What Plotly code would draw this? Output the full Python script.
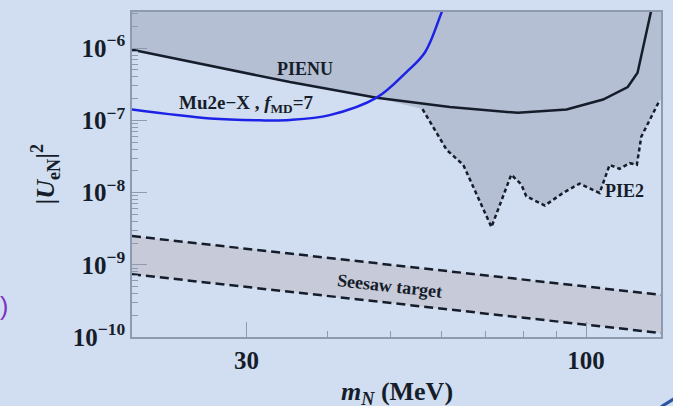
import numpy as np
import plotly.graph_objects as go

# ---------------- data ----------------
# PIENU exclusion limit (solid black)
pienu_m = [20, 26.4, 35.0, 47.6, 61.7, 78.5, 93.3, 106.2, 115.9, 120.0, 126.0, 126.9]
pienu_u = [9.5e-7, 5.75e-7, 3.39e-7, 2.06e-7, 1.53e-7, 1.27e-7, 1.41e-7, 1.94e-7, 2.89e-7,
           4.55e-7, 3.1e-6, 4.5e-6]

# Mu2e-X projection, f_MD = 7 (blue)
mu2e_m = [20, 26.4, 31.5, 35.0, 40.3, 47.6, 52.9, 56.5, 59.9, 60.6]
mu2e_u = [1.41e-7, 1.06e-7, 1.0e-7, 1.01e-7, 1.18e-7, 2.06e-7, 4.66e-7, 8.77e-7, 3.1e-6, 4.0e-6]

# PIE2 projection (dotted)
pie2_m = [56.0, 61.0, 64.7, 71.5, 76.7, 79.5, 80.9, 86.4, 92.1, 97.7, 104.9, 108.7, 112.6,
          116.7, 119.7, 121.6, 129.8]
pie2_u = [1.43e-7, 3.90e-8, 2.42e-8, 3.33e-9, 1.77e-8, 1.29e-8, 8.87e-9, 6.61e-9, 9.86e-9,
          1.33e-8, 9.86e-9, 2.42e-8, 2.13e-8, 2.55e-8, 2.42e-8, 5.94e-8, 1.90e-7]

# Seesaw target band (dashed)
seesaw_m = [20, 130.4]
seesaw_hi = [2.5e-9, 3.83e-10]
seesaw_lo = [7.4e-10, 1.135e-10]

x_major = [30, 100]
x_major_text = ["30", "100"]
x_minor = [40, 50, 60, 70, 80, 90]
y_major = [1e-10, 1e-9, 1e-8, 1e-7, 1e-6]
y_major_text = ["10<sup>−10</sup>", "10<sup>−9</sup>", "10<sup>−8</sup>",
                "10<sup>−7</sup>", "10<sup>−6</sup>"]
y_minor = [k * 10.0 ** e for e in range(-10, -5) for k in range(2, 10)]

X_MIN, X_MAX = 20, 130.4
Y_MIN, Y_MAX = 1e-10, 10 ** -5.5

# ---------------- style ----------------
BG = "#d1ddf0"
SHADE = "#b5bfd3"
BAND = "#c7cad9"
INK = "#161d2a"
FRAME = "#8e9ab0"
BLUE = "#1c22e6"
FONT = "Liberation Serif"

fig = go.Figure()

# shaded excluded region: above PIENU, then above PIE2
cut = [i for i, m in enumerate(pienu_m) if m < pie2_m[0]]
poly_x = [pienu_m[i] for i in cut] + pie2_m + [X_MAX, X_MAX, X_MIN]
poly_y = [pienu_u[i] for i in cut] + pie2_u + [pie2_u[-1], Y_MAX * 3, Y_MAX * 3]
fig.add_trace(go.Scatter(x=poly_x, y=poly_y, fill="toself", fillcolor=SHADE,
                         line=dict(width=0), mode="lines", hoverinfo="skip"))

# seesaw band
fig.add_trace(go.Scatter(x=seesaw_m, y=seesaw_lo, mode="lines",
                         line=dict(color=INK, width=2.5, dash="9px,5px")))
fig.add_trace(go.Scatter(x=seesaw_m, y=seesaw_hi, mode="lines", fill="tonexty",
                         fillcolor=BAND, line=dict(color=INK, width=2.5, dash="9px,5px")))

# PIENU
fig.add_trace(go.Scatter(x=pienu_m, y=pienu_u, mode="lines",
                         line=dict(color=INK, width=2.5)))
# PIE2
fig.add_trace(go.Scatter(x=pie2_m, y=pie2_u, mode="lines",
                         line=dict(color=INK, width=2.5, dash="4px,3px")))
# Mu2e-X
fig.add_trace(go.Scatter(x=mu2e_m, y=mu2e_u, mode="lines", line_shape="spline",
                         line=dict(color=BLUE, width=2.5)))

lab = dict(family=FONT, size=18, color=INK, weight="bold")
L = np.log10
annotations = [
    dict(x=L(36.9), y=-6.291, text="PIENU", font=lab),
    dict(x=L(30.0), y=-6.78, text="Mu2e−X , <i>f</i><sub>MD</sub>=7",
         font=dict(lab, size=19)),
    dict(x=L(114.7), y=-7.983, text="PIE2", font=lab),
    dict(x=L(49.9), y=-9.29, text="Seesaw target", font=lab, textangle=6.4),
]
for a in annotations:
    a.update(xref="x", yref="y", showarrow=False, xanchor="center", yanchor="middle")

big = dict(family=FONT, size=26, color=INK, weight="bold")
annotations += [
    dict(xref="paper", yref="paper", x=-0.1645, y=0.503, textangle=-90,
         text="|<i>U</i><sub>eN</sub>|<sup>2</sup>", font=big, showarrow=False,
         xanchor="center", yanchor="middle"),
    dict(xref="paper", yref="paper", x=0.5, y=-0.172,
         text="<i>m</i><sub><i>N</i></sub> (MeV)", font=big, showarrow=False,
         xanchor="center", yanchor="middle"),
    dict(xref="paper", yref="paper", x=(9.5 - 132) / 529, y=0.094, text=")",
         font=dict(family="Liberation Sans", size=25, color="#7d30bf"), showarrow=False,
         xanchor="right", yanchor="middle"),
]

axis_common = dict(showgrid=False, zeroline=False, showline=True, mirror=True,
                   linecolor=FRAME, linewidth=1.5, ticks="inside", tickcolor=FRAME,
                   tickwidth=1, ticklen=15, tickfont=dict(big, size=25))

fig.update_layout(
    width=673, height=406,
    margin=dict(l=132, r=12, t=10, b=69),
    paper_bgcolor=BG, plot_bgcolor=BG,
    showlegend=False,
    annotations=annotations,
    xaxis=dict(type="log", range=[L(X_MIN), L(X_MAX)], tickmode="array",
               tickvals=x_major, ticktext=x_major_text,
               minor=dict(tickmode="array", tickvals=x_minor, ticks="inside",
                          ticklen=6, tickcolor=FRAME, tickwidth=1),
               **axis_common),
    yaxis=dict(type="log", range=[L(Y_MIN), L(Y_MAX)], tickmode="array",
               tickvals=y_major, ticktext=y_major_text,
               minor=dict(tickmode="array", tickvals=y_minor, ticks="inside",
                          ticklen=6, tickcolor=FRAME, tickwidth=1),
               **axis_common),
    shapes=[dict(type="path", xref="paper", yref="paper",
                 path="M 1.0000 -0.2149 Q 1.0120 -0.2030 1.0265 -0.1880",
                 line=dict(color="#2a55a0", width=3))],
)

fig.write_html("out.html")
